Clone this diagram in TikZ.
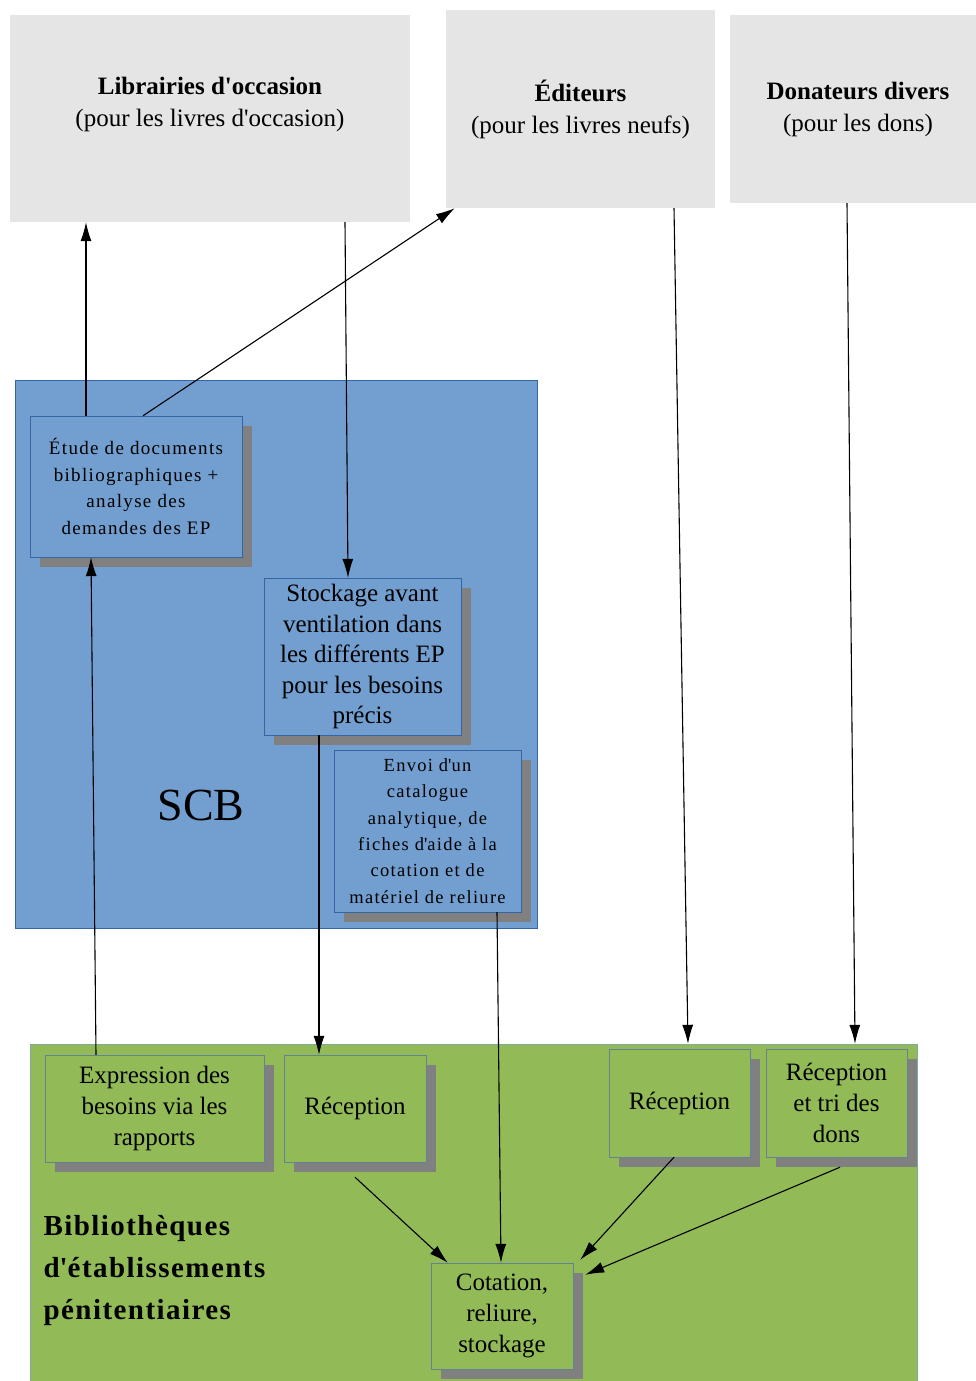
\documentclass[tikz,border=0pt]{standalone}
\usepackage{fontspec}
\setmainfont{Liberation Serif}
\newfontfamily\widefont[LetterSpace=7]{Liberation Serif}
\newfontfamily\widebold[LetterSpace=5]{Liberation Serif}
\usepackage{tikz}
\usetikzlibrary{arrows.meta,calc,shadows}
\definecolor{paleg}{RGB}{229,229,229}
\definecolor{scbblue}{RGB}{114,159,207}
\definecolor{scbedge}{RGB}{52,101,164}
\definecolor{epgreen}{RGB}{146,187,88}
\definecolor{epedge}{RGB}{100,130,150}
\definecolor{shade}{RGB}{128,128,128}
\newcommand{\ap}{\textquotesingle}

\begin{document}
\begin{tikzpicture}[x=1pt, y=-1pt,
  srcbox/.style 2 args={fill=paleg, minimum width=#1, minimum height=#2, inner sep=0pt},
  scbbox/.style 2 args={draw=scbedge, fill=scbblue, minimum width=#1, minimum height=#2, inner sep=0pt, align=center,
    drop shadow={shadow xshift=10pt, shadow yshift=-10pt, fill=shade, opacity=1}},
  epbox/.style 2 args={draw=epedge, fill=epgreen, minimum width=#1, minimum height=#2, inner sep=0pt, align=center,
    drop shadow={shadow xshift=10pt, shadow yshift=-10pt, fill=shade, opacity=1}},
  big/.style={font=\fontsize{25}{31}\selectfont},
  flow/.style={-{Latex[length=19pt,width=11pt]}, line width=1.1pt}]
\useasboundingbox (0,0) rectangle (975,1381);

% Sources
\node[srcbox={400}{207}] (libr) at (210,118.5) {};
\node[srcbox={269}{198}] (edit) at (580.5,109) {};
\node[srcbox={255}{188}] (donat) at (857.5,109) {};
\node[big, align=center, font=\fontsize{25}{32}\selectfont] (librtxt) at (210,104) {\textbf{Librairies d\ap occasion}\\(pour les livres d\ap occasion)};
\node[big, align=center, font=\fontsize{25}{32}\selectfont] (edittxt) at (580.5,109) {\textbf{Éditeurs}\\(pour les livres neufs)};
\node[big, align=center, font=\fontsize{25}{32}\selectfont] (donattxt) at (858,109) {\textbf{Donateurs divers}\\(pour les dons)};

% SCB
\node[draw=scbedge, fill=scbblue, minimum width=522, minimum height=548, inner sep=0pt] (scb) at (276,654) {};
\node[font=\fontsize{46}{50}\selectfont] (scbtxt) at (201,805) {SCB};
\node[scbbox={212}{141}, font=\widefont\fontsize{19}{26.5}\selectfont] (etude) at (136,486.5)
  {Étude de documents\\bibliographiques +\\analyse des\\demandes des EP};
\node[scbbox={197}{157}, font=\fontsize{25}{30.5}\selectfont] (stock) at (362.5,656.5)
  {Stockage avant\\ventilation dans\\les différents EP\\pour les besoins\\précis};
\node[scbbox={187}{162}, font=\widefont\fontsize{18.5}{26.4}\selectfont] (envoi) at (427.5,831)
  {Envoi d\ap un\\catalogue\\analytique, de\\fiches d\ap aide à la\\cotation et de\\matériel de reliure};

% Bibliotheques
\node[draw=scbblue!60!epgreen, fill=epgreen, minimum width=887, minimum height=350, inner sep=0pt] (bep) at (473.5,1219) {};
\node[anchor=west, align=left, font=\widebold\bfseries\fontsize{29}{42}\selectfont] (beptxt) at (40,1270)
  {Bibliothèques\\d\ap établissements\\pénitentiaires};
\node[epbox={219}{107}, big] (expr) at (154.5,1108.5) {Expression des\\besoins via les\\rapports};
\node[epbox={142}{107}, big] (recep1) at (355,1108.5) {Réception};
\node[epbox={141}{108}, big] (recep2) at (679.5,1103) {Réception};
\node[epbox={141}{108}, big] (tri) at (836.5,1103) {Réception\\et tri des\\dons};
\node[epbox={142}{106}, big] (cot) at (502,1316) {Cotation,\\reliure,\\stockage};

% Flows
\draw[flow] ([xshift=-50pt]etude.north) -- ([xshift=-50pt]etude.north |- libr.south);
\draw[flow] ([xshift=7pt]etude.north) -- ([xshift=9pt]edit.south west);
\draw[flow] ([xshift=135pt]libr.south) -- ([xshift=-14.5pt]stock.north);
\draw[flow] ([xshift=93.5pt]edit.south) -- ([xshift=8.5pt,yshift=5pt]recep2.north);
\draw[flow] ([xshift=-10.5pt]donat.south) -- ([xshift=18.5pt,yshift=5pt]tri.north);
\draw[flow] ([xshift=-58.5pt]expr.north) -- ([xshift=-45pt]etude.south);
\draw[flow] ([xshift=-43.5pt]stock.south) -- ([xshift=-36pt]recep1.north);
\draw[flow] ([xshift=69.5pt]envoi.south) -- ([xshift=-1pt]cot.north);
\draw[flow] ([yshift=-15pt]recep1.south) -- ([xshift=17pt]cot.north west);
\draw[flow] ([xshift=-5.5pt]recep2.south) -- ([xshift=7pt,yshift=3pt]cot.north east);
\draw[flow] ([xshift=3.5pt,yshift=-10pt]tri.south) -- ([xshift=12pt,yshift=-12pt]cot.north east);
\end{tikzpicture}
\end{document}
